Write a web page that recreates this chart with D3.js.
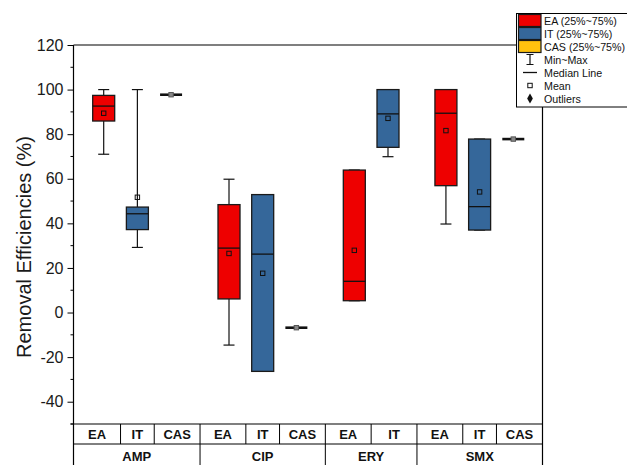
<!DOCTYPE html>
<html>
<head>
<meta charset="utf-8">
<script src="https://cdn.jsdelivr.net/npm/d3@7"></script>
<style>
  html, body { margin: 0; padding: 0; background: #fff; }
  svg { display: block; font-family: "Liberation Sans", Arial, sans-serif; }
</style>
</head>
<body>
<script>
// chart data
const groups = ['AMP', 'CIP', 'ERY', 'SMX'];
const categories = ['EA', 'IT', 'CAS', 'EA', 'IT', 'CAS', 'EA', 'IT', 'EA', 'IT', 'CAS'];
const groupOf = ['AMP', 'AMP', 'AMP', 'CIP', 'CIP', 'CIP', 'ERY', 'ERY', 'SMX', 'SMX', 'SMX'];
const minVals = [71, 29.2, 97.7, -14.6, -26.4, -6.8, 5.3, 69.9, 39.7, 37, 77.8];
const q1Vals = [85.9, 37.2, 97.7, 6.1, -26.4, -6.8, 5.3, 74.1, 56.9, 37, 77.8];
const medianVals = [92.6, 44.3, 97.7, 28.9, 26.2, -6.8, 14, 89.1, 89.4, 47.5, 77.8];
const q3Vals = [97.4, 47.3, 97.7, 48.4, 52.9, -6.8, 63.9, 100, 100, 77.8, 77.8];
const maxVals = [100, 100, 97.7, 59.8, 52.9, -6.8, 63.9, 100, 100, 77.8, 77.8];
const meanVals = [89.4, 51.7, 97.7, 26.5, 17.6, -6.8, 27.9, 87.1, 81.6, 54.1, 77.8];
const yTicks = [-40, -20, 0, 20, 40, 60, 80, 100, 120];
const legendLabels = ['EA (25%~75%)', 'IT (25%~75%)', 'CAS (25%~75%)', 'Min~Max', 'Median Line', 'Mean', 'Outliers'];

const colors = { EA: '#ee0000', IT: '#35679a', CAS: '#ffc20e' };

const width = 627, height = 465;
const plot = { left: 73.5, right: 542.5, top: 45, bottom: 424 };
const rowSplit = 444;

const svg = d3.select('body').append('svg')
  .attr('width', width)
  .attr('height', height);

// numeric x position: category index plus a gap for each new group
const gap = 0.72;
const pos = categories.map((c, i) => i + gap * groups.indexOf(groupOf[i]));

const x = d3.scaleLinear()
  .domain([pos[0], pos[pos.length - 1]])
  .range([103.7, 513.3]);

const y = d3.scaleLinear()
  .domain([-50, 120])
  .range([plot.bottom, plot.top]);

const data = categories.map((c, i) => ({
  cat: c,
  group: groupOf[i],
  x: x(pos[i]),
  min: minVals[i], q1: q1Vals[i], med: medianVals[i],
  q3: q3Vals[i], max: maxVals[i], mean: meanVals[i]
}));

// y axis
const yAxis = d3.axisLeft(y)
  .tickValues(yTicks)
  .tickFormat(d => String(d))
  .tickSize(6)
  .tickSizeOuter(0)
  .tickPadding(4);
const gy = svg.append('g')
  .attr('transform', `translate(${plot.left},0)`)
  .call(yAxis);
gy.select('.domain').remove();
gy.selectAll('line').attr('stroke', '#000');
gy.selectAll('text').attr('font-size', 16).attr('fill', '#1a1a1a');

const minorTicks = d3.range(-50, 121, 10).filter(v => !yTicks.includes(v));
svg.append('g').selectAll('line')
  .data(minorTicks)
  .enter()
  .append('line')
  .attr('x1', plot.left - 3)
  .attr('x2', plot.left)
  .attr('y1', d => y(d))
  .attr('y2', d => y(d))
  .attr('stroke', '#000');

svg.append('text')
  .attr('transform', `translate(31,247) rotate(-90)`)
  .attr('text-anchor', 'middle')
  .attr('font-size', 20)
  .attr('fill', '#1a1a1a')
  .text('Removal Efficiencies (%)');

// boxes
const boxW = 22, capW = 11;
const box = svg.append('g').selectAll('g')
  .data(data)
  .enter()
  .append('g');

box.append('line')
  .attr('x1', d => d.x).attr('x2', d => d.x)
  .attr('y1', d => y(d.max)).attr('y2', d => y(d.q3))
  .attr('stroke', '#111').attr('stroke-width', 1.2);
box.append('line')
  .attr('x1', d => d.x).attr('x2', d => d.x)
  .attr('y1', d => y(d.q1)).attr('y2', d => y(d.min))
  .attr('stroke', '#111').attr('stroke-width', 1.2);
['min', 'max'].forEach(k => {
  box.append('line')
    .attr('x1', d => d.x - capW / 2).attr('x2', d => d.x + capW / 2)
    .attr('y1', d => y(d[k])).attr('y2', d => y(d[k]))
    .attr('stroke', '#111').attr('stroke-width', 1.2);
});

box.append('rect')
  .attr('x', d => d.x - boxW / 2)
  .attr('width', boxW)
  .attr('y', d => y(d.q3))
  .attr('height', d => Math.max(0, y(d.q1) - y(d.q3)))
  .attr('fill', d => colors[d.cat])
  .attr('stroke', '#1a1a1a')
  .attr('stroke-width', 1.3);

box.append('line')
  .attr('x1', d => d.x - boxW / 2).attr('x2', d => d.x + boxW / 2)
  .attr('y1', d => y(d.med)).attr('y2', d => y(d.med))
  .attr('stroke', '#111')
  .attr('stroke-width', d => d.q3 === d.q1 ? 2.6 : 1.3);

box.append('rect')
  .attr('x', d => d.x - 2.2)
  .attr('y', d => y(d.mean) - 2.2)
  .attr('width', 4.4)
  .attr('height', 4.4)
  .attr('fill', d => d.q3 === d.q1 ? '#888' : 'none')
  .attr('stroke', d => d.q3 === d.q1 ? '#555' : '#111')
  .attr('stroke-width', 1);

// frame
svg.append('path')
  .attr('d', `M${plot.left},${plot.top}H${plot.right}V${height}`)
  .attr('fill', 'none').attr('stroke', '#000').attr('stroke-width', 1.2);
svg.append('line')
  .attr('x1', plot.left).attr('x2', plot.left)
  .attr('y1', plot.top).attr('y2', height)
  .attr('stroke', '#000').attr('stroke-width', 1.2);
svg.append('line')
  .attr('x1', plot.left - 3).attr('x2', plot.right)
  .attr('y1', plot.bottom).attr('y2', plot.bottom)
  .attr('stroke', '#000').attr('stroke-width', 1.2);
svg.append('line')
  .attr('x1', plot.left).attr('x2', plot.right)
  .attr('y1', rowSplit).attr('y2', rowSplit)
  .attr('stroke', '#000').attr('stroke-width', 1);

// category table below the axis
const seps = data.slice(1).map((d, i) => ({
  x: (data[i].x + d.x) / 2,
  groupEdge: d.group !== data[i].group
}));
svg.append('g').selectAll('line')
  .data(seps)
  .enter()
  .append('line')
  .attr('x1', d => d.x).attr('x2', d => d.x)
  .attr('y1', plot.bottom)
  .attr('y2', d => d.groupEdge ? height : rowSplit)
  .attr('stroke', '#000').attr('stroke-width', 1);

const edges = [plot.left].concat(seps.map(s => s.x), [plot.right]);
svg.append('g').selectAll('text')
  .data(data)
  .enter()
  .append('text')
  .attr('x', (d, i) => (edges[i] + edges[i + 1]) / 2)
  .attr('y', (plot.bottom + rowSplit) / 2 + 4.5)
  .attr('text-anchor', 'middle')
  .attr('font-size', 13)
  .attr('font-weight', 'bold')
  .attr('fill', '#111')
  .text(d => d.cat);

const groupEdges = [plot.left].concat(seps.filter(s => s.groupEdge).map(s => s.x), [plot.right]);
svg.append('g').selectAll('text')
  .data(groups)
  .enter()
  .append('text')
  .attr('x', (d, i) => (groupEdges[i] + groupEdges[i + 1]) / 2)
  .attr('y', 461)
  .attr('text-anchor', 'middle')
  .attr('font-size', 13)
  .attr('font-weight', 'bold')
  .attr('fill', '#111')
  .text(d => d);

// legend
const lg = svg.append('g');
lg.append('rect')
  .attr('x', 516.5).attr('y', 13.5)
  .attr('width', 130).attr('height', 93.5)
  .attr('fill', '#fff').attr('stroke', '#000').attr('stroke-width', 1);

const rowY = i => 20.5 + 13 * i;
const swatchKeys = ['EA', 'IT', 'CAS'];
lg.selectAll('rect.sw')
  .data(swatchKeys)
  .enter()
  .append('rect')
  .attr('class', 'sw')
  .attr('x', 518.5).attr('width', 22.5)
  .attr('y', (d, i) => rowY(i) - 6)
  .attr('height', 12)
  .attr('fill', d => colors[d])
  .attr('stroke', '#1a1a1a').attr('stroke-width', 1.2);

const cx = 530;
lg.append('path')
  .attr('d', `M${cx - 3.5},${rowY(3) - 5}H${cx + 3.5}M${cx},${rowY(3) - 5}V${rowY(3) + 5}M${cx - 3.5},${rowY(3) + 5}H${cx + 3.5}`)
  .attr('stroke', '#111').attr('stroke-width', 1.2).attr('fill', 'none');
lg.append('line')
  .attr('x1', cx - 7).attr('x2', cx + 7)
  .attr('y1', rowY(4)).attr('y2', rowY(4))
  .attr('stroke', '#111').attr('stroke-width', 1.3);
lg.append('rect')
  .attr('x', cx - 2.2).attr('y', rowY(5) - 2.2)
  .attr('width', 4.4).attr('height', 4.4)
  .attr('fill', '#fff').attr('stroke', '#111').attr('stroke-width', 1);
lg.append('path')
  .attr('transform', `translate(${cx},${rowY(6)})`)
  .attr('d', d3.symbol(d3.symbolDiamond, 28)())
  .attr('fill', '#111');

lg.selectAll('text')
  .data(legendLabels)
  .enter()
  .append('text')
  .attr('x', 544)
  .attr('y', (d, i) => rowY(i) + 4)
  .attr('font-size', 10.7)
  .attr('fill', '#111')
  .text(d => d);
</script>
</body>
</html>
